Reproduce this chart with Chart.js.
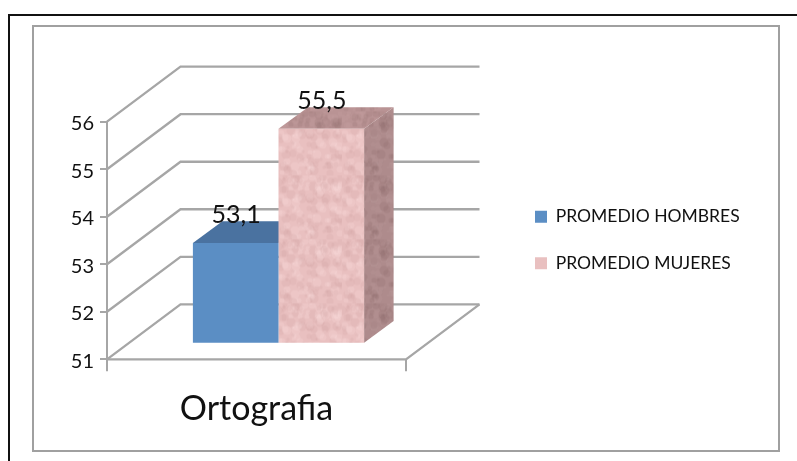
<!DOCTYPE html>
<html>
<head>
<meta charset="utf-8">
<style>
  html, body { margin: 0; background: #fff; }
  #wrap { position: relative; width: 797px; height: 461px; overflow: hidden; }
  #outer { position: absolute; left: 8px; top: 14px; width: 800px; height: 460px; border: 2px solid #111; }
  #inner { position: absolute; left: 32px; top: 25px; width: 744px; height: 423px; border: 2px solid #a0a0a0; }
  canvas { position: absolute; left: 0; top: 0; }
</style>
<script src="https://cdn.jsdelivr.net/npm/chart.js@4/dist/chart.umd.min.js"></script>
</head>
<body>
<div id="wrap">
  <div id="outer"></div>
  <div id="inner"></div>
  <canvas id="chart" width="797" height="461"></canvas>
</div>
<script>
const categories = ['Ortografia'];
const seriesNames = ['PROMEDIO HOMBRES', 'PROMEDIO MUJERES'];
const hombres = [53.1];
const mujeres = [55.5];
const yMin = 51;
const yMax = 56;

const GRID = '#a6a6a6';
// Offset of the back wall and of the plane the bars stand on
const WALL = { dx: 73.5, dy: -55 };
const BAR = { dx: 22, dy: -16.6 };
const DEPTH = { dx: 29.5, dy: -21.7 };
const LEGEND_PAD = 29;

// Mottled fill for the pink bar
function mottled(base, spots) {
  const c = document.createElement('canvas');
  c.width = c.height = 64;
  const g = c.getContext('2d');
  g.fillStyle = base;
  g.fillRect(0, 0, 64, 64);
  let s = 7;
  for (let i = 0; i < 150; i++) {
    s = (s * 137 + 59) % 1009;
    const x = s % 64;
    s = (s * 137 + 59) % 1009;
    const y = s % 64;
    g.fillStyle = spots[i % spots.length];
    g.beginPath();
    g.arc(x, y, 1.5 + (s % 4), 0, Math.PI * 2);
    g.fill();
  }
  return g.createPattern(c, 'repeat');
}
const pinkFront = mottled('#e9c0c0', ['rgba(255,225,225,0.18)', 'rgba(200,150,150,0.14)']);
const pinkSide = mottled('#ae8b8c', ['rgba(140,105,105,0.2)', 'rgba(195,160,160,0.16)']);
const pinkTop = mottled('#b99394', ['rgba(150,115,115,0.2)', 'rgba(205,170,170,0.16)']);
const faces = [
  { top: '#4a72a0', side: '#4a72a0' },
  { top: pinkTop, side: pinkSide },
];

function poly(ctx, pts, fill) {
  ctx.beginPath();
  pts.forEach((p, i) => (i ? ctx.lineTo(p[0], p[1]) : ctx.moveTo(p[0], p[1])));
  ctx.closePath();
  ctx.fillStyle = fill;
  ctx.fill();
}

const walls3d = {
  id: 'walls3d',
  // Move the native legend out of the chart area, next to the plot
  afterLayout(chart) {
    const l = chart.legend;
    l.left = 535 - LEGEND_PAD; l.right = 775; l.top = 208 - LEGEND_PAD; l.bottom = 330;
  },
  beforeDatasetsDraw(chart) {
    const { ctx, scales: { x, y } } = chart;
    const L = x.left, R = x.right, B = y.getPixelForValue(yMin);
    ctx.save();
    ctx.strokeStyle = GRID;
    ctx.lineWidth = 2.3;
    y.ticks.forEach(t => {
      const py = y.getPixelForValue(t.value);
      ctx.beginPath();
      ctx.moveTo(L, py);
      ctx.lineTo(L + WALL.dx, py + WALL.dy);
      ctx.lineTo(R + WALL.dx, py + WALL.dy);
      ctx.stroke();
    });
    // Floor edges
    ctx.beginPath();
    ctx.moveTo(L, B);
    ctx.lineTo(R, B);
    ctx.lineTo(R + WALL.dx, B + WALL.dy);
    ctx.stroke();
    ctx.restore();

    // Side and top faces sit behind the bar fronts
    ctx.save();
    ctx.translate(BAR.dx, BAR.dy);
    chart.data.datasets.forEach((ds, i) => {
      const bar = chart.getDatasetMeta(i).data[0];
      const l = bar.x - bar.width / 2, r = bar.x + bar.width / 2;
      const t = bar.y;
      if (i === chart.data.datasets.length - 1) {
        poly(ctx, [[r, t], [r + DEPTH.dx, t + DEPTH.dy], [r + DEPTH.dx, B + DEPTH.dy], [r, B]], faces[i].side);
      }
      poly(ctx, [[l, t], [l + DEPTH.dx, t + DEPTH.dy], [r + DEPTH.dx, t + DEPTH.dy], [r, t]], faces[i].top);
    });
    ctx.restore();

    ctx.save();
    ctx.translate(BAR.dx, BAR.dy);
  },
  afterDatasetsDraw(chart) {
    const { ctx } = chart;
    ctx.restore();
    // Value labels
    ctx.save();
    ctx.fillStyle = '#111';
    ctx.font = '25px Lato';
    ctx.textAlign = 'center';
    ctx.textBaseline = 'alphabetic';
    chart.data.datasets.forEach((ds, i) => {
      const bar = chart.getDatasetMeta(i).data[0];
      const label = String(ds.data[0]).replace('.', ',');
      ctx.fillText(label, bar.x + BAR.dx + 0.5, bar.y + BAR.dy - 20);
    });
    ctx.restore();
  },
};

new Chart(document.getElementById('chart'), {
  type: 'bar',
  data: {
    labels: categories,
    datasets: [
      { label: seriesNames[0], data: hombres, backgroundColor: '#5b8ec4', categoryPercentage: 0.5726, barPercentage: 1 },
      { label: seriesNames[1], data: mujeres, backgroundColor: pinkFront, categoryPercentage: 0.5726, barPercentage: 1 },
    ],
  },
  options: {
    responsive: false,
    animation: false,
    layout: { padding: { top: 121.7, right: 391, left: 0, bottom: 0 } },
    plugins: {
      tooltip: { enabled: false },
      legend: {
        position: 'chartArea',
        align: 'start',
        labels: {
          boxWidth: 12,
          boxHeight: 12,
          padding: LEGEND_PAD,
          color: '#111',
          font: { family: 'Lato', size: 17.5 },
          generateLabels(chart) {
            return chart.data.datasets.map((ds, i) => ({
              text: ds.label,
              fillStyle: i === 0 ? '#5b8ec4' : '#e9c0c0',
              lineWidth: 0,
              strokeStyle: 'transparent',
              fontColor: '#111',
              datasetIndex: i,
            }));
          },
        },
      },
    },
    scales: {
      x: {
        afterFit(scale) { scale.height = 101.7; },
        grid: { offset: true, drawOnChartArea: false, color: GRID, lineWidth: 2, tickLength: 12 },
        border: { display: false },
        ticks: { color: '#111', padding: 17, font: { family: 'Lato', size: 34 }, maxRotation: 0 },
      },
      y: {
        min: yMin,
        max: yMax,
        afterFit(scale) { scale.width = 107; },
        grid: { drawOnChartArea: false, color: GRID, lineWidth: 2, tickLength: 7 },
        border: { display: true, color: GRID, width: 2 },
        ticks: { stepSize: 1, color: '#111', padding: 6, labelOffset: 2, font: { family: 'Lato', size: 20 } },
      },
    },
  },
  plugins: [walls3d],
});
</script>
</body>
</html>
